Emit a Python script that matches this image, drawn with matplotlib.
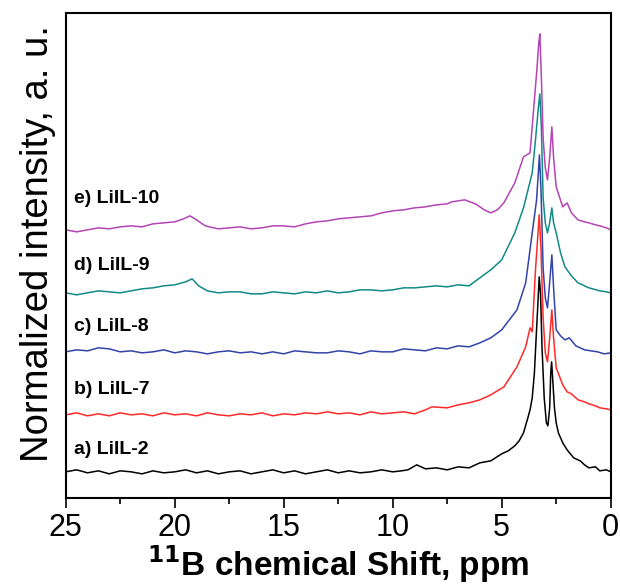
import numpy as np
import matplotlib
matplotlib.use("Agg")
import matplotlib.pyplot as plt
from matplotlib.ticker import MultipleLocator

plt.rcParams['font.family'] = ['Liberation Sans', 'DejaVu Sans']

# spectra: shift (ppm) and stacked intensity (a. u.)
a_ppm = [25, 24.5, 24, 23.5, 23, 22.5, 22, 21.5, 21, 20.5, 20, 19.5, 19, 18.5, 18, 17.5, 17, 16.5, 16, 15.5,
         15, 14.5, 14, 13.5, 13, 12.5, 12, 11.5, 11, 10.5, 10, 9.6, 9.3, 8.9, 8.5, 8, 7.5, 7, 6.5, 6,
         5.5, 5, 4.7, 4.4, 4.2, 4.0, 3.8, 3.7, 3.6, 3.5, 3.42, 3.35, 3.28, 3.22, 3.15, 3.05, 2.95, 2.88,
         2.8, 2.75, 2.71, 2.65, 2.58, 2.5, 2.4, 2.2, 2.0, 1.7, 1.4, 1.2, 1.0, 0.7, 0.5, 0.2, 0]
a_int = [26, 28, 25, 27, 24, 27, 26, 24, 27, 25, 26, 28, 25, 27, 24, 26, 27, 24, 26, 28,
         25, 27, 24, 26, 28, 25, 27, 25, 26, 28, 26, 27, 28, 33, 29, 30, 28, 31, 30, 35,
         37, 44, 47, 52, 57, 65, 80, 88, 100, 125, 160, 190, 221, 205, 150, 100, 75, 72,
         90, 125, 136, 115, 90, 75, 65, 55, 48, 40, 37, 33, 30, 31, 27, 28, 26]

b_ppm = [25, 24.5, 24, 23.5, 23, 22.5, 22, 21.5, 21, 20.5, 20, 19.5, 19, 18.5, 18, 17.5, 17, 16.5, 16, 15.5,
         15, 14.5, 14, 13.5, 13, 12.5, 12, 11.5, 11, 10.5, 10, 9.5, 9, 8.5, 8.2, 7.5, 7, 6.5, 6, 5.5, 4.9,
         4.3, 3.9, 3.7, 3.6, 3.45, 3.35, 3.28, 3.2, 3.1, 3.0, 2.9, 2.8, 2.7, 2.62, 2.5, 2.2, 2.0, 1.8,
         1.5, 1.2, 1.0, 0.7, 0.5, 0.2, 0]
b_int = [83, 85, 82, 84, 82, 85, 83, 84, 82, 85, 83, 84, 82, 85, 83, 82, 84, 83, 85, 82,
         84, 83, 85, 84, 86, 84, 85, 83, 86, 84, 85, 86, 84, 88, 91, 90, 93, 95, 98, 103, 111,
         131, 151, 170, 166, 228, 260, 283, 250, 180, 145, 136, 160, 188, 160, 130, 113, 106, 104,
         98, 96, 94, 92, 90, 89, 88]

c_ppm = [25, 24.5, 24, 23.5, 23, 22.5, 22, 21.5, 21, 20.5, 20, 19.5, 19, 18.5, 18, 17.5, 17, 16.5, 16, 15.5,
         15, 14.5, 14, 13.5, 13, 12.5, 12, 11.5, 11, 10.5, 10, 9.5, 9, 8.5, 8, 7.5, 7, 6.5, 6, 5.5, 5,
         4.3, 3.9, 3.6, 3.4, 3.32, 3.27, 3.2, 3.1, 3.0, 2.9, 2.8, 2.7, 2.62, 2.5, 2.3, 2.1, 1.9, 1.6,
         1.2, 0.9, 0.6, 0.3, 0]
c_int = [146, 148, 147, 150, 149, 146, 147, 145, 146, 148, 145, 147, 146, 144, 146, 147, 145, 146, 144, 146,
         144, 147, 146, 145, 145, 147, 146, 144, 147, 146, 146, 149, 148, 147, 150, 149, 152, 151, 155, 160,
         168, 188, 215, 265, 298, 325, 343, 310, 230, 200, 190, 215, 243, 210, 168, 162, 158, 160, 152,
         148, 147, 146, 144, 145]

d_ppm = [25, 24.5, 24, 23.5, 23, 22.5, 22, 21.5, 21, 20.5, 20, 19.5, 19.2, 18.9, 18.5, 18, 17.5, 17, 16.5,
         16, 15.5, 15, 14.5, 14, 13.5, 13, 12.5, 12, 11.5, 11, 10.5, 10, 9.5, 9, 8.5, 8, 7.5, 7, 6.5,
         6, 5.5, 5, 4.4, 4.0, 3.6, 3.45, 3.32, 3.25, 3.18, 3.1, 3.0, 2.9, 2.8, 2.7, 2.62, 2.5, 2.3, 2.1,
         1.8, 1.5, 1.2, 1.0, 0.5, 0.2, 0]
d_int = [205, 203, 205, 207, 206, 205, 207, 209, 210, 212, 213, 216, 219, 212, 207, 205, 206, 206, 204,
         204, 206, 205, 204, 206, 205, 207, 205, 206, 208, 208, 207, 208, 210, 210, 211, 212, 211, 213, 212,
         220, 228, 238, 265, 290, 325, 358, 390, 404, 370, 300, 275, 265, 275, 290, 275, 265, 245, 231,
         222, 215, 212, 210, 207, 206, 205]

e_ppm = [25, 24.5, 24, 23.5, 23, 22.5, 22, 21.5, 21, 20.5, 20, 19.6, 19.3, 19, 18.6, 18, 17.5, 17, 16.5,
         16, 15.5, 15, 14.5, 14, 13.5, 13, 12.5, 12, 11.5, 11, 10.5, 10, 9.5, 9, 8.5, 8, 7.5, 7.3, 6.7,
         6.2, 5.8, 5.5, 5.2, 4.9, 4.4, 4.0, 3.7, 3.5, 3.38, 3.3, 3.25, 3.18, 3.1, 3.0, 2.9, 2.8, 2.7,
         2.62, 2.5, 2.2, 2.0, 1.8, 1.5, 1.2, 1.0, 0.7, 0.5, 0.2, 0]
e_int = [268, 266, 268, 270, 269, 271, 272, 271, 274, 275, 276, 279, 282, 278, 272, 269, 270, 271, 269,
         270, 272, 272, 271, 274, 276, 277, 279, 280, 281, 282, 285, 287, 288, 290, 291, 293, 294, 296, 298,
         294, 288, 285, 288, 295, 315, 341, 345, 398, 430, 455, 464, 420, 360, 330, 318, 340, 371,
         340, 311, 291, 295, 285, 278, 276, 275, 273, 272, 270, 268]

names = ["a) LiIL-2", "b) LiIL-7", "c) LiIL-8", "d) LiIL-9", "e) LiIL-10"]
label_y = [48, 108, 171, 232, 299]
colors = ["#000000", "#ff2a2a", "#3344a8", "#118a88", "#b445b4"]

fig = plt.figure(figsize=(6.2, 5.85), dpi=100)
ax = fig.add_axes([0.106, 0.149, 0.879, 0.829])

spectra = [(a_ppm, a_int), (b_ppm, b_int), (c_ppm, c_int), (d_ppm, d_int), (e_ppm, e_int)]
for (x, y), c, n, ly in zip(spectra, colors, names, label_y):
    ax.plot(x, y, color=c, lw=1.1)
    ax.text(24.6, ly, n, fontsize=14, fontweight="bold", va="center", ha="left")

ax.set_xlim(25, 0)
ax.set_ylim(0, 485)
ax.xaxis.set_major_locator(MultipleLocator(5))
ax.xaxis.set_minor_locator(MultipleLocator(2.5))
ax.tick_params(axis="x", which="major", length=7, width=1.2, labelsize=22, direction="out", pad=4)
ax.tick_params(axis="x", which="minor", length=4, width=1.2, direction="out")
ax.set_yticks([])
for s in ax.spines.values():
    s.set_linewidth(1.5)
ax.set_xlabel("$^{\\mathbf{11}}$B chemical Shift, ppm", fontsize=24, fontweight="bold", labelpad=0)
ax.set_ylabel("Normalized intensity, a. u.", fontsize=27.5)
ax.yaxis.set_label_coords(-0.017, 0.525)

fig.savefig("out.png", dpi=100)
